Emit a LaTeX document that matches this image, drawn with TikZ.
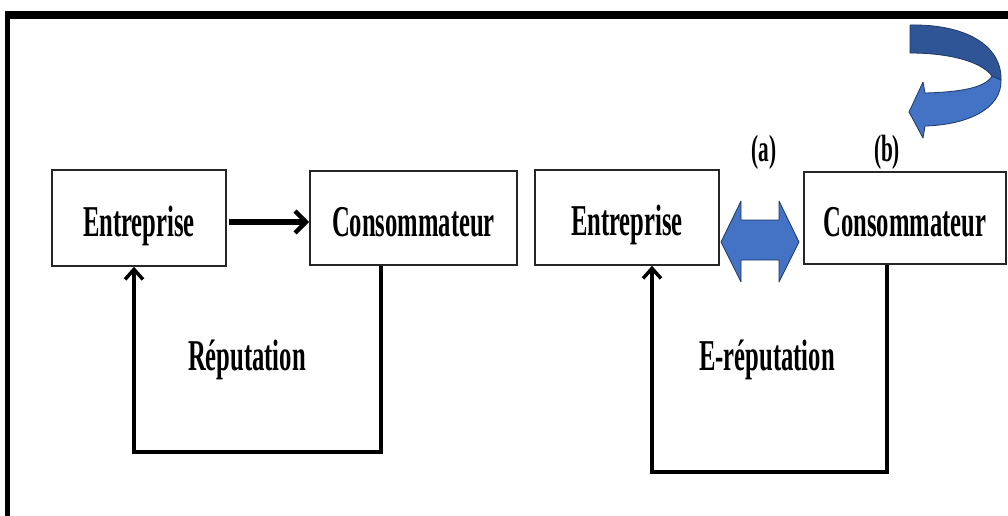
\documentclass[tikz,border=0pt]{standalone}
\usepackage{fontspec}
\setmainfont{Liberation Serif}[FakeStretch=0.56]
\usetikzlibrary{arrows.meta}
\definecolor{bluefront}{HTML}{4472C4}
\definecolor{blueback}{HTML}{2F5597}
\definecolor{blueedge}{HTML}{1F3864}
\tikzset{
  box/.style={draw=black!85, line width=1.6pt, fill=white, inner sep=0pt,
    text height=46pt, text depth=10pt,
    font=\fontsize{44}{48}\selectfont\bfseries},
  lbl/.style={inner sep=0pt, anchor=base, font=\fontsize{44}{48}\selectfont\bfseries},
  small/.style={inner sep=0pt, anchor=base, font=\fontsize{38}{42}\selectfont\bfseries},
  fb/.style={line width=4pt, line join=miter, -{Straight Barb[length=10pt,width=18pt,line width=3.5pt]}},
  flow/.style={line width=6pt, -{Straight Barb[length=11pt,width=22pt,line width=4.5pt]}},
  bluearrow/.style={fill=bluefront, draw=blueedge, line width=0.8pt, line join=round}
}
\begin{document}
\begin{tikzpicture}[x=1pt,y=-1pt]
\useasboundingbox (0,0) rectangle (1008,515);
\fill[white] (0,0) rectangle (1008,515);
\begin{scope}
\clip (0,0) rectangle (1008,515);
% frame
\draw[line width=8pt] (5,15) -- (1012,15);
\draw[line width=5pt] (7,11) -- (7,520);
\end{scope}

% boxes
\node[box, minimum width=174pt, minimum height=96pt] (le) at (139,218) {Entreprise};
\node[box, minimum width=207pt, minimum height=94pt] (lc) at (413.5,218) {Consommateur};
\node[box, minimum width=184pt, minimum height=95pt] (re) at (627,217.5) {Entreprise};
\node[box, minimum width=202pt, minimum height=92pt] (rc) at (905,218) {Consommateur};

% left flow
\draw[flow] (le.east) ++(2,4) coordinate (fa) -- (fa -| lc.west);

% left feedback loop
\coordinate (l1) at (381,452);
\coordinate (l2) at (134,452);
\draw[fb] (l1 |- lc.south) -- (l1) -- (l2) -- (l2 |- le.south);
\node[lbl] (rep) at (247,370) {Réputation};

% right feedback loop
\coordinate (r1) at (887,472);
\coordinate (r2) at (652,472);
\draw[fb] (r1 |- rc.south) -- (r1) -- (r2) -- (r2 |- re.south);
\node[lbl] (erep) at (767,370) {E-réputation};

% labels (a) (b)
\node[small] (a) at (764,161) {(a)};
\node[small] (b) at (887,161) {(b)};

% blue double arrow
\draw[bluearrow] (721,242) -- (741,201) -- (741,220) -- (779,220) -- (779,201)
  -- (799,242) -- (779,282) -- (779,260) -- (741,260) -- (741,282) -- cycle;

% curved blue arrow (top right)
\draw[fill=blueback, draw=blueedge, line width=0.8pt, line join=round]
  (910,25) .. controls (965,24) and (1002,45) .. (1001,80)
  -- (992,76) .. controls (980,60) and (945,53) .. (910,53) -- cycle;
\draw[bluearrow]
  (925,93) .. controls (960,92) and (985,88) .. (992,76)
  -- (1001,80) .. controls (1002,110) and (965,125) .. (925,126)
  -- (923,138) -- (909,112) -- (923,82) -- cycle;
\end{tikzpicture}
\end{document}
